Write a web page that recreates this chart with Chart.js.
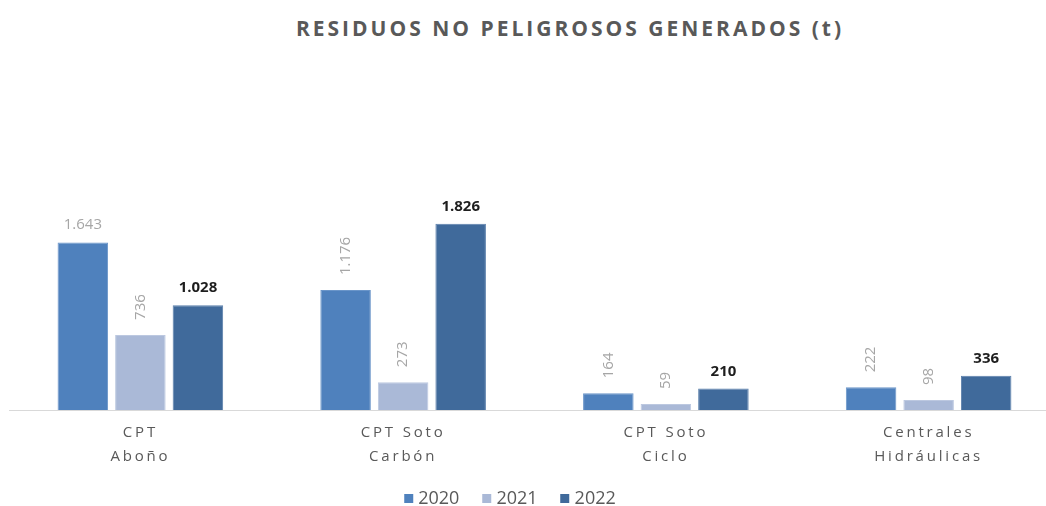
<!DOCTYPE html>
<html>
<head>
<meta charset="utf-8">
<script src="https://cdn.jsdelivr.net/npm/chart.js@4.4.1/dist/chart.umd.min.js"></script>
<style>
    html, body { margin: 0; padding: 0; background: #fff; overflow: hidden; width: 1046px; height: 506px; }
    #wrap { position: relative; width: 1046px; height: 506px; overflow: hidden; }
    #chart { position: absolute; left: 0; top: 0; }
    #title {
        position: absolute; left: 570px; top: 14px; transform: translateX(-50%);
        white-space: nowrap; font-family: "Open Sans", sans-serif; font-weight: bold;
        font-size: 21px; line-height: 28px; letter-spacing: 3px; color: #595959;
    }
    #legend {
        position: absolute; left: 510px; top: 485px; transform: translateX(-50%);
        display: flex; gap: 23px; white-space: nowrap;
        font-family: "Open Sans", sans-serif; font-size: 18px; line-height: 24px; color: #595959;
    }
    #legend span.item { display: flex; align-items: center; }
    #legend span.box { display: inline-block; width: 9px; height: 9px; margin-right: 5px; margin-top: 3px; }
</style>
</head>
<body>
<div id="wrap">
    <div id="title">RESIDUOS NO PELIGROSOS GENERADOS (t)</div>
    <canvas id="chart" width="1060" height="506"></canvas>
    <div id="legend"></div>
</div>
<script>
'use strict';

// datos
var categories = [['CPT', 'Aboño'], ['CPT Soto', 'Carbón'], ['CPT Soto', 'Ciclo'], ['Centrales', 'Hidráulicas']];
var years = ['2020', '2021', '2022'];
var values2020 = [1643, 1176, 164, 222];
var values2021 = [736, 273, 59, 98];
var values2022 = [1028, 1826, 210, 336];

var colors = ['#4f81bd', '#aab9d7', '#406a9b'];
var borders = ['#6a95c9', '#bcc8e0', '#5a7fab'];
var labelColors = ['#a6a6a6', '#a6a6a6', '#1e1e1e'];
// etiquetas giradas como en el original
var rotated = [
    [false, true, true, true],
    [true, true, true, true],
    [false, false, false, false]
];

function fmt(v) {
    return String(v).replace(/\B(?=(\d{3})+(?!\d))/g, '.');
}

var spacingPlugin = {
    id: 'spacing',
    beforeDraw: function (chart) {
        chart.ctx.letterSpacing = '2.8px';
    },
    beforeDatasetsDraw: function (chart) {
        chart.ctx.letterSpacing = '0px';
    },
    afterDraw: function (chart) {
        chart.ctx.letterSpacing = '0px';
    }
};

var valueLabels = {
    id: 'valueLabels',
    afterDatasetsDraw: function (chart) {
        var ctx = chart.ctx;
        chart.data.datasets.forEach(function (ds, i) {
            var meta = chart.getDatasetMeta(i);
            meta.data.forEach(function (bar, j) {
                var txt = fmt(ds.data[j]);
                ctx.save();
                ctx.letterSpacing = '0px';
                ctx.fillStyle = labelColors[i];
                ctx.font = (i === 2 ? 'bold ' : '') + '15px "Open Sans", sans-serif';
                if (rotated[i][j]) {
                    ctx.translate(bar.x, bar.y - 15);
                    ctx.rotate(-Math.PI / 2);
                    ctx.textAlign = 'left';
                    ctx.textBaseline = 'middle';
                    ctx.fillText(txt, 0, 0);
                } else {
                    ctx.textAlign = 'center';
                    ctx.textBaseline = 'alphabetic';
                    ctx.fillText(txt, bar.x, bar.y - 13);
                }
                ctx.restore();
            });
        });
    }
};

var allValues = [values2020, values2021, values2022];

var CHART = document.getElementById('chart');

var residuosChart = new Chart(CHART, {
    type: 'bar',
    data: {
        labels: categories,
        datasets: years.map(function (y, i) {
            return {
                label: y,
                data: allValues[i],
                backgroundColor: colors[i],
                borderColor: borders[i],
                borderWidth: 1,
                categoryPercentage: 0.657,
                barPercentage: 0.878
            };
        })
    },
    options: {
        responsive: false,
        devicePixelRatio: 1,
        animation: false,
        layout: {
            padding: { top: 104, bottom: 26, left: 9, right: 0 }
        },
        plugins: {
            legend: { display: false },
            title: { display: false },
            tooltip: { enabled: false }
        },
        scales: {
            x: {
                grid: { display: false, drawTicks: false },
                border: { display: true, color: '#d9d9d9', width: 1 },
                ticks: {
                    color: '#595959',
                    padding: 11,
                    maxRotation: 0,
                    autoSkip: false,
                    font: { family: '"Open Sans", sans-serif', size: 15, lineHeight: 1.6 }
                },
                afterFit: function (scale) {
                    scale.height = 70;
                }
            },
            y: {
                display: false,
                min: 0,
                max: 3000
            }
        }
    },
    plugins: [spacingPlugin, valueLabels]
});

// leyenda
var legendEl = document.getElementById('legend');
residuosChart.data.datasets.forEach(function (ds) {
    var item = document.createElement('span');
    item.className = 'item';
    var box = document.createElement('span');
    box.className = 'box';
    box.style.background = ds.backgroundColor;
    item.appendChild(box);
    item.appendChild(document.createTextNode(ds.label));
    legendEl.appendChild(item);
});
</script>
</body>
</html>
